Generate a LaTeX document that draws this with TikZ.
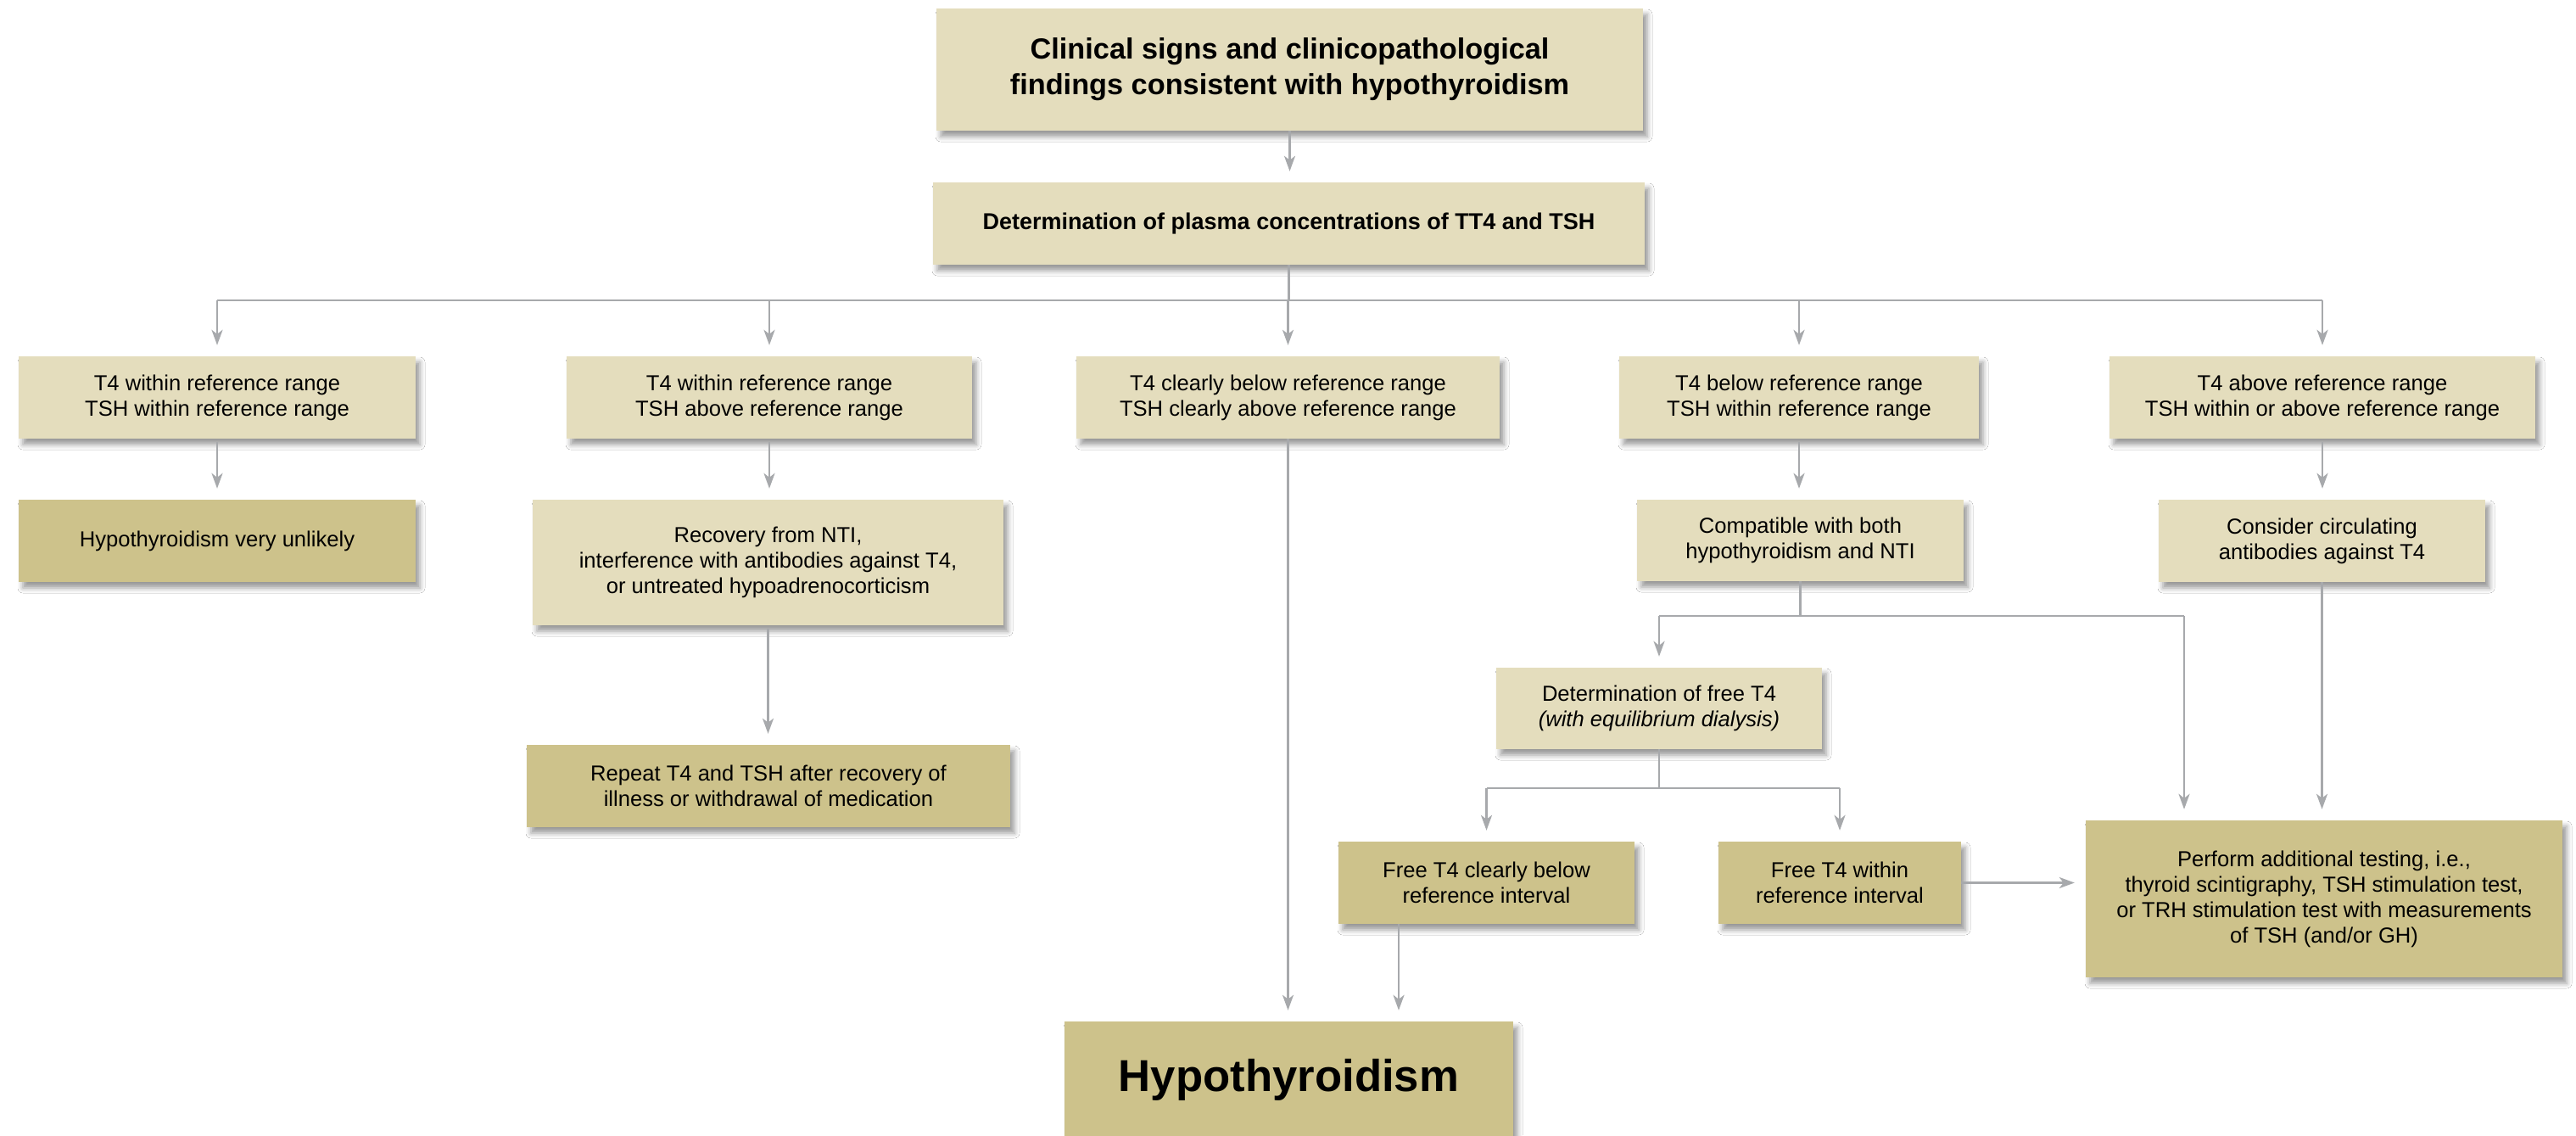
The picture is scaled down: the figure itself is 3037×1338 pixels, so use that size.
\documentclass[tikz,border=0pt]{standalone}
\usepackage{fontspec}
\setmainfont{Liberation Sans}
\usetikzlibrary{arrows.meta,shadows.blur}
\definecolor{palefill}{HTML}{E4DDBD}
\definecolor{deepfill}{HTML}{CDC28B}
\definecolor{linegray}{HTML}{A7A9AC}
\tikzset{
  box/.style={draw=none, inner sep=0pt, align=center,
    font=\fontsize{25.6}{30}\selectfont,
    blur shadow={shadow xshift=5pt, shadow yshift=-7pt, shadow blur radius=6pt, shadow opacity=40}},
  pale/.style={box, fill=palefill},
  deep/.style={box, fill=deepfill},
  sz/.style n args={2}{minimum width=#1pt, minimum height=#2pt},
  ln/.style={draw=linegray, line width=2.6pt},
  arr/.style={ln, -{Stealth[length=18pt,width=13pt,inset=5pt]}, shorten >=13pt},
}
\begin{document}
\begin{tikzpicture}[x=1pt,y=-1pt]
\useasboundingbox (0,0) rectangle (3037,1338);
\fill[white] (0,0) rectangle (3037,1338);

% nodes
\node[pale, sz={833}{144}, font=\fontsize{34.3}{42}\selectfont\bfseries] (top) at (1520.5,82)
  {Clinical signs and clinicopathological\\findings consistent with hypothyroidism};
\node[pale, sz={839}{97}, font=\fontsize{27}{32}\selectfont\bfseries] (det) at (1519.5,263.5)
  {Determination of plasma concentrations of TT4 and TSH};

\node[pale, sz={468}{97}] (A) at (256,468.5) {T4 within reference range\\TSH within reference range};
\node[pale, sz={478}{97}] (B) at (907,468.5) {T4 within reference range\\TSH above reference range};
\node[pale, sz={499}{97}] (C) at (1518.5,468.5) {T4 clearly below reference range\\TSH clearly above reference range};
\node[pale, sz={424}{97}] (D) at (2121,468.5) {T4 below reference range\\TSH within reference range};
\node[pale, sz={502}{97}] (E) at (2738,468.5) {T4 above reference range\\TSH within or above reference range};

\node[deep, sz={468}{97}] (A2) at (256,637.5) {Hypothyroidism very unlikely};
\node[pale, sz={555}{148}] (B2) at (905.5,663) {Recovery from NTI,\\interference with antibodies against T4,\\or untreated hypoadrenocorticism};
\node[deep, sz={570}{97}] (B3) at (906,926.5) {Repeat T4 and TSH after recovery of\\illness or withdrawal of medication};
\node[pale, sz={385}{96}] (D2) at (2122.5,637) {Compatible with both\\hypothyroidism and NTI};
\node[pale, sz={385}{97}] (E2) at (2737.5,637.5) {Consider circulating\\antibodies against T4};

\node[pale, sz={384}{96}] (detf) at (1956,835) {Determination of free T4\\\textit{(with equilibrium dialysis)}};
\node[deep, sz={349}{97}] (fb) at (1752.5,1040.5) {Free T4 clearly below\\reference interval};
\node[deep, sz={286}{97}] (fw) at (2169,1040.5) {Free T4 within\\reference interval};
\node[deep, sz={562}{185}] (perf) at (2740,1059.5) {Perform additional testing, i.e.,\\thyroid scintigraphy, TSH stimulation test,\\or TRH stimulation test with measurements\\of TSH (and/or GH)};
\node[deep, sz={529}{138}, font=\fontsize{52.7}{60}\selectfont\bfseries] (hypo) at (1519.5,1273) {Hypothyroidism};

% helper coordinates
\coordinate (busy) at (0,354);
\coordinate (sb1) at (0,726);
\coordinate (sb2) at (0,929);
\coordinate (pin1) at (2575,726);
\coordinate (fbx) at (1649,0);

% connectors
\draw[arr] (top.south) -- (top.south |- det.north);
\draw[ln] (det.south) -- (det.south |- busy);
\draw[ln] (A.north |- busy) -- (E.north |- busy);
\foreach \n in {A,B,C,D,E} { \draw[arr] (\n.north |- busy) -- (\n.north); }

\draw[arr, shorten <=4pt] (A.south) -- (A2.north);
\draw[arr, shorten <=4pt] (B.south) -- (B.south |- B2.north);
\draw[arr, shorten <=4pt] (B2.south) -- (B2.south |- B3.north);
\draw[arr] (C.south) -- (C.south |- hypo.north);
\draw[arr, shorten <=4pt] (D.south) -- (D.south |- D2.north);
\draw[arr, shorten <=4pt] (E.south) -- (E.south |- E2.north);

\draw[ln] (D2.south) -- (D2.south |- sb1);
\draw[ln] (detf.north |- sb1) -- (pin1);
\draw[arr] (detf.north |- sb1) -- (detf.north);
\draw[arr] (pin1) -- (pin1 |- perf.north);
\draw[arr] (E2.south) -- (E2.south |- perf.north);

\draw[ln] (detf.south) -- (detf.south |- sb2);
\draw[ln] (fb.north |- sb2) -- (fw.north |- sb2);
\draw[arr] (fb.north |- sb2) -- (fb.north);
\draw[arr] (fw.north |- sb2) -- (fw.north);

\draw[arr] (fbx |- fb.south) -- (fbx |- hypo.north);
\draw[arr] (fw.east) -- (fw.east -| perf.west);
\end{tikzpicture}
\end{document}
